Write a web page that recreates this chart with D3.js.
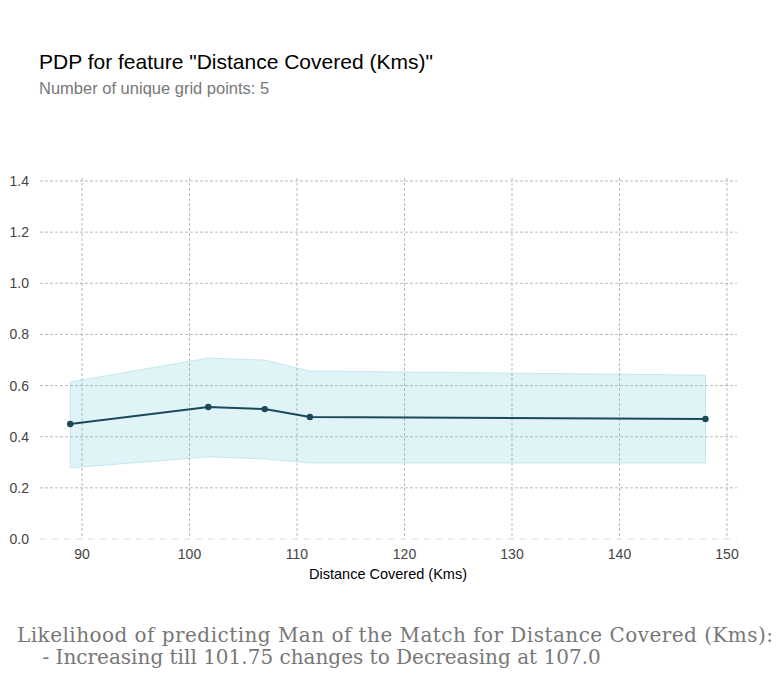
<!DOCTYPE html>
<html><head><meta charset="utf-8">
<script src="https://cdn.jsdelivr.net/npm/d3@7"></script>
<style>body{margin:0;background:#fff}</style></head>
<body><svg id="c" width="783" height="677"></svg>
<script>
const xs=[88.9,101.75,107.0,111.2,148.0];
const pdp=[0.450,0.516,0.508,0.477,0.469];
const upper=[0.614,0.708,0.700,0.657,0.641];
const lower=[0.278,0.321,0.313,0.297,0.297];
const xTicks=[90,100,110,120,130,140,150];
const yTicks=[0,0.2,0.4,0.6,0.8,1.0,1.2,1.4];
const svg=d3.select("#c");
const x=d3.scaleLinear().domain([90,150]).range([82,727]);
const y=d3.scaleLinear().domain([0,1.4]).range([539,181]);
const L=40,R=737;
const g=svg.append("g");
yTicks.forEach(t=>{ if(t>0) g.append("line").attr("x1",L).attr("x2",R).attr("y1",y(t)).attr("y2",y(t)).attr("stroke","#aaa").attr("stroke-width",0.8).attr("stroke-dasharray","3,2");
 g.append("text").attr("x",29).attr("y",y(t)+5).attr("text-anchor","end").attr("font-family","Liberation Sans, Arial").attr("font-size",14).attr("fill","#444").text(t.toFixed(1));});
xTicks.forEach(t=>{ g.append("line").attr("x1",x(t)).attr("x2",x(t)).attr("y1",178).attr("y2",539).attr("stroke","#aaa").attr("stroke-width",0.8).attr("stroke-dasharray","3,2");
 g.append("text").attr("x",x(t)).attr("y",559).attr("text-anchor","middle").attr("font-family","Liberation Sans, Arial").attr("font-size",14).attr("fill","#444").text(t);});
g.append("line").attr("x1",L).attr("x2",R).attr("y1",539).attr("y2",539).attr("stroke","#ddd").attr("stroke-dasharray","6,6");
const idx=d3.range(xs.length);
g.append("path").attr("d",d3.area().x(i=>x(xs[i])).y0(i=>y(lower[i])).y1(i=>y(upper[i]))(idx)).attr("fill","#66c2d7").attr("fill-opacity",0.2).attr("stroke","#66c2d7").attr("stroke-opacity",0.3);
g.append("path").attr("d",d3.line().x(i=>x(xs[i])).y(i=>y(pdp[i]))(idx)).attr("fill","none").attr("stroke","#1a4a5a").attr("stroke-width",2);
idx.forEach(i=>g.append("circle").attr("cx",x(xs[i])).attr("cy",y(pdp[i])).attr("r",3.2).attr("fill","#1a4a5a"));
svg.append("text").attr("x",388).attr("y",579).attr("text-anchor","middle").attr("font-family","Liberation Sans, Arial").attr("font-size",14.5).attr("fill","#000").text("Distance Covered (Kms)");
svg.append("text").attr("x",39).attr("y",69).attr("font-family","Liberation Sans, Arial").attr("font-size",21).attr("fill","#000").text('PDP for feature "Distance Covered (Kms)"');
svg.append("text").attr("x",39).attr("y",94).attr("font-family","Liberation Sans, Arial").attr("font-size",16.5).attr("fill","#777").text("Number of unique grid points: 5");
svg.append("text").attr("x",17).attr("y",642).attr("font-family","DejaVu Serif, serif").attr("font-size",20).attr("fill","#777").attr("textLength",756).text("Likelihood of predicting Man of the Match for Distance Covered (Kms):");
svg.append("text").attr("x",17).attr("y",664).attr("font-family","DejaVu Serif, serif").attr("font-size",20).attr("fill","#777").style("white-space","pre").text("    - Increasing till 101.75 changes to Decreasing at 107.0");
</script></body></html>
